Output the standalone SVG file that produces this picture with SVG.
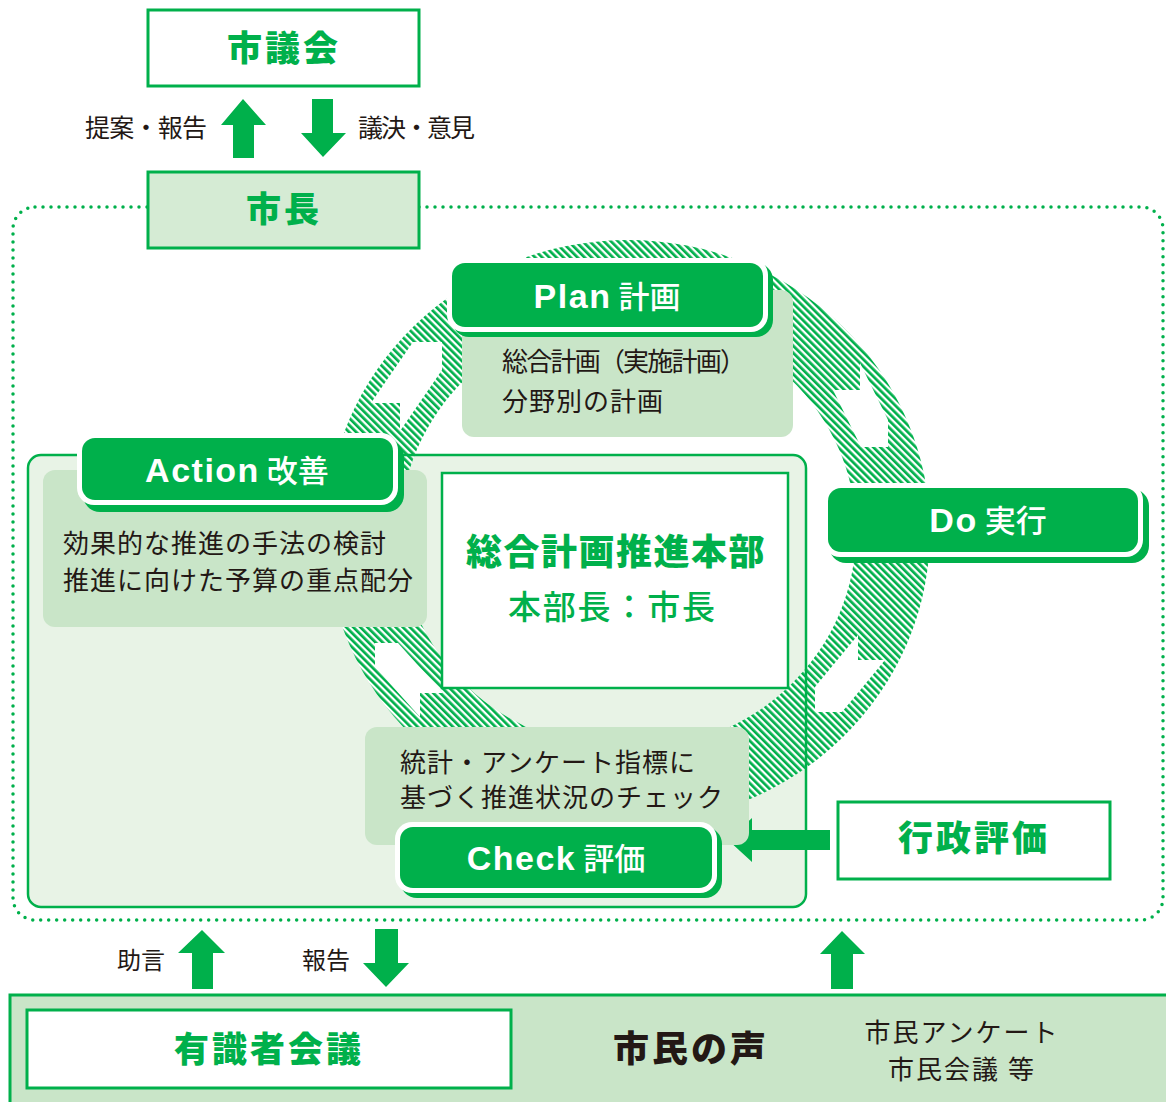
<svg xmlns="http://www.w3.org/2000/svg" width="1166" height="1102" viewBox="0 0 1166 1102">
<defs>
<pattern id="hatch" patternUnits="userSpaceOnUse" width="5" height="5" patternTransform="rotate(-45)">
<rect width="5" height="5" fill="#ffffff"/>
<rect width="2.7" height="5" fill="#00B04B"/>
</pattern>
</defs>
<style>
.g{fill:#00B04B}
.w{fill:#ffffff}
.box{fill:#ffffff;stroke:#00B04B;stroke-width:3}
.desc{fill:#C9E5C8}
.jb{font-family:"Noto Sans CJK JP","Noto Sans CJK SC",sans-serif;font-weight:900;fill:#00B04B;text-anchor:middle}
.jk{font-family:"Noto Sans CJK JP","Noto Sans CJK SC",sans-serif;font-weight:900;fill:#231815;text-anchor:middle}
.jt{font-family:"Noto Sans CJK JP","Noto Sans CJK SC",sans-serif;font-weight:400;fill:#231815;font-size:26px;letter-spacing:1px}
.lab{font-family:"Noto Sans CJK JP","Noto Sans CJK SC",sans-serif;font-weight:400;fill:#231815;font-size:25px}
.bt{fill:#ffffff;text-anchor:middle}
.bl{font-family:"Liberation Sans",Arial,sans-serif;font-weight:700;font-size:34px;letter-spacing:1.5px}
.bj{font-family:"Noto Sans CJK JP","Noto Sans CJK SC",sans-serif;font-weight:500;font-size:31px}
.dot{fill:none;stroke:#00B04B;stroke-width:3.5;stroke-linecap:round;stroke-dasharray:0 8}
</style>

<!-- dotted boundary -->
<rect class="dot" x="13" y="207" width="1150" height="713" rx="22"/>

<!-- container -->
<rect id="container-fill" x="28" y="455" width="778" height="452" rx="13" fill="#E8F3E6"/>

<!-- ring -->
<g id="cycle-ring">
<path fill="url(#hatch)" fill-rule="evenodd" d="M326,532 A302,292 0 1 0 930,532 A302,292 0 1 0 326,532 Z M400,532 A228,218 0 1 0 856,532 A228,218 0 1 0 400,532 Z"/>
<polygon class="w" points="442,342 413,342 371,403 400,403 400,431 442,370"/>
<polygon class="w" points="888,447 888,420 860,363 860,390 833,390 861,447"/>
<polygon class="w" points="815,712 815,687 858,635 858,660 885,660 842,712"/>
<polygon class="w" points="375,643 398,643 443,693 420,693 420,717 375,667"/>
</g>

<rect x="28" y="455" width="778" height="452" rx="13" fill="none" stroke="#00B04B" stroke-width="2.5"/>

<!-- connectors -->
<g id="connectors">
<polygon class="g" points="243,99 266,125 254,125 254,158 233,158 233,125 221,125"/>
<polygon class="g" points="312,99 333,99 333,133 346,133 323,157 301,133 312,133"/>
<polygon class="g" points="202,930 225,953 213,953 213,989 192,989 192,953 178,953"/>
<polygon class="g" points="375,929 398,929 398,963 409,963 386,987 363,963 375,963"/>
<polygon class="g" points="842,931 865,954 853,954 853,989 831,989 831,954 820,954"/>
<polygon class="g" points="728,840 752,818 752,830 830,830 830,850 752,850 752,862"/>
</g>

<text class="lab" x="85" y="137" textLength="122" lengthAdjust="spacing">提案・報告</text>
<text class="lab" x="358" y="137" textLength="117" lengthAdjust="spacing">議決・意見</text>
<text class="lab" x="117" y="969" style="font-size:24px">助言</text>
<text class="lab" x="302" y="969" style="font-size:24px">報告</text>

<g id="shigikai">
<rect class="box" x="148" y="10" width="271" height="76"/>
<text class="jb" x="284" y="61" style="font-size:35px;letter-spacing:3px">市議会</text>
</g>

<g id="shicho">
<rect x="148" y="172" width="271" height="76" fill="#D5EBD4" stroke="#00B04B" stroke-width="3"/>
<text class="jb" x="284" y="222" style="font-size:35px;letter-spacing:3px">市長</text>
</g>

<g id="plan">
<rect class="desc" x="462" y="290" width="331" height="147" rx="12"/>
<text class="jt" x="502" y="371" style="letter-spacing:0" textLength="244" lengthAdjust="spacing">総合計画（実施計画）</text>
<text class="jt" x="502" y="411">分野別の計画</text>
<rect class="g" x="452" y="263" width="321" height="74" rx="17"/>
<rect class="w" x="447" y="258" width="321" height="74" rx="17"/>
<rect class="g" x="452" y="263" width="311" height="64" rx="13"/>
<text class="bt" x="607" y="308"><tspan class="bl">Plan</tspan><tspan class="bj"> 計画</tspan></text>
</g>

<g id="action">
<rect class="desc" x="43" y="470" width="384" height="157" rx="12"/>
<text class="jt" x="63" y="553">効果的な推進の手法の検討</text>
<text class="jt" x="63" y="590">推進に向けた予算の重点配分</text>
<rect class="g" x="83" y="440" width="321" height="72" rx="17"/>
<rect class="w" x="77" y="433" width="321" height="72" rx="17"/>
<rect class="g" x="82" y="438" width="311" height="62" rx="13"/>
<text class="bt" x="237" y="482"><tspan class="bl">Action</tspan><tspan class="bj"> 改善</tspan></text>
</g>

<g id="honbu">
<rect x="442" y="473" width="346" height="215" fill="#ffffff" stroke="#00B04B" stroke-width="2.5"/>
<text class="jb" x="616" y="565" style="font-size:36px;letter-spacing:1.5px">総合計画推進本部</text>
<text x="508" y="619" textLength="207" lengthAdjust="spacing" style="font-family:'Noto Sans CJK JP','Noto Sans CJK SC',sans-serif;font-weight:500;font-size:33px;fill:#00B04B">本部長：市長</text>
</g>

<g id="do">
<rect class="g" x="829" y="489" width="320" height="74" rx="17"/>
<rect class="w" x="823" y="483" width="320" height="74" rx="17"/>
<rect class="g" x="828" y="488" width="310" height="64" rx="13"/>
<text class="bt" x="988" y="532"><tspan class="bl">Do</tspan><tspan class="bj"> 実行</tspan></text>
</g>

<g id="check">
<rect class="desc" x="365" y="727" width="384" height="118" rx="12"/>
<text class="jt" x="400" y="772">統計・アンケート指標に</text>
<text class="jt" x="400" y="807">基づく推進状況のチェック</text>
<rect class="g" x="400" y="827" width="322" height="71" rx="17"/>
<rect class="w" x="395" y="822" width="322" height="71" rx="17"/>
<rect class="g" x="400" y="827" width="312" height="61" rx="13"/>
<text class="bt" x="556" y="870"><tspan class="bl">Check</tspan><tspan class="bj"> 評価</tspan></text>
</g>

<g id="gyosei">
<rect class="box" x="838" y="802" width="272" height="77"/>
<text class="jb" x="974" y="851" style="font-size:35px;letter-spacing:3px">行政評価</text>
</g>

<g id="shimin">
<rect x="10" y="995" width="1170" height="120" fill="#C9E5C8" stroke="#00B04B" stroke-width="3"/>
<text class="jk" x="691" y="1062" style="font-size:36px;letter-spacing:3px">市民の声</text>
<text class="lab" x="962" y="1042" style="text-anchor:middle;font-size:26px;letter-spacing:2px">市民アンケート</text>
<text class="lab" x="962" y="1079" style="text-anchor:middle;font-size:26px;letter-spacing:2px">市民会議 等</text>
</g>

<g id="yushikisha">
<rect class="box" x="27" y="1010" width="484" height="78"/>
<text class="jb" x="269" y="1062" style="font-size:35px;letter-spacing:3px">有識者会議</text>
</g>
</svg>
